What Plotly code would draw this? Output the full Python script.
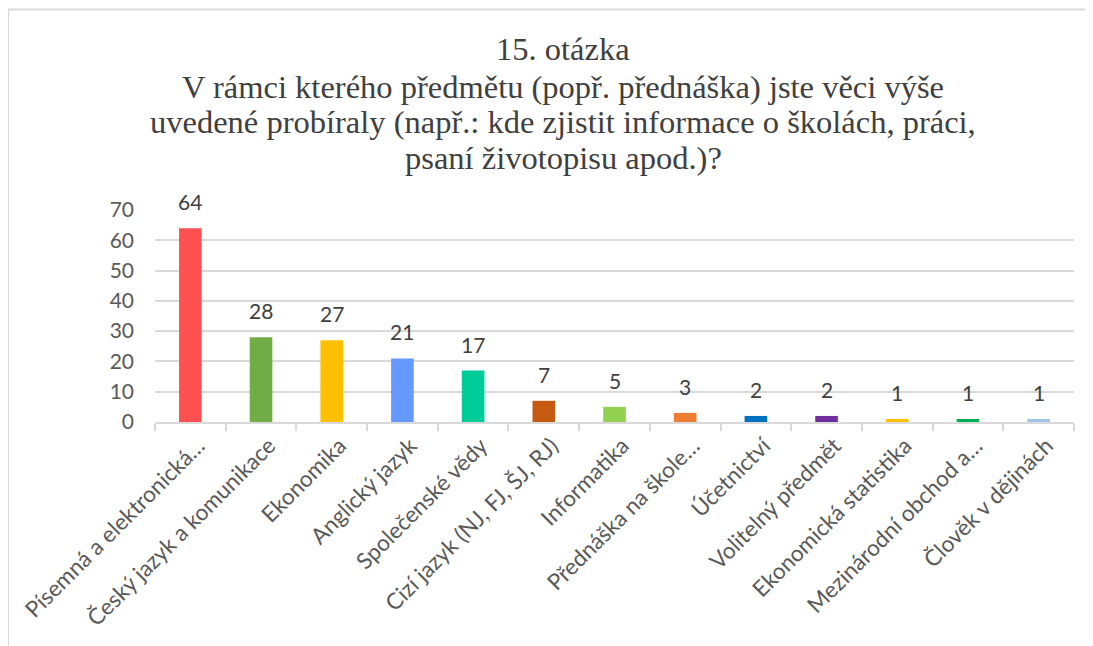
import plotly.graph_objects as go

categories = [
    "Písemná a elektronická…",
    "Český jazyk a komunikace",
    "Ekonomika",
    "Anglický jazyk",
    "Společenské vědy",
    "Cizí jazyk (NJ, FJ, ŠJ, RJ)",
    "Informatika",
    "Přednáška na škole…",
    "Účetnictví",
    "Volitelný předmět",
    "Ekonomická statistika",
    "Mezinárodní obchod a…",
    "Člověk v dějinách",
]
values = [64, 28, 27, 21, 17, 7, 5, 3, 2, 2, 1, 1, 1]
colors = ["#FF5050", "#70AD47", "#FFC000", "#6699FF", "#00CC99", "#C55A11",
          "#92D050", "#ED7D31", "#0070C0", "#7030A0", "#FFC000", "#00B050", "#9DC3E6"]
y_ticks = [0, 10, 20, 30, 40, 50, 60, 70]
title_lines = [
    "15. otázka",
    "V rámci kterého předmětu (popř. přednáška) jste věci výše",
    "uvedené probíraly (např.: kde zjistit informace o školách, práci,",
    "psaní životopisu apod.)?",
]

W, H = 1093, 646
L, R, T, B = 147, 27, 202, 232
pw = W - L - R
ph = H - T - B


def px2x(p):
    return (p - L) / pw


def py2y(p):
    return (H - B - p) / ph


fig = go.Figure(go.Bar(
    x=categories, y=values, marker_color=colors, width=0.32,
    marker_line_width=0,
))

for c, v in zip(categories, values):
    fig.add_annotation(x=c, y=v, text=str(v), showarrow=False, yanchor="bottom",
                       yshift=12, font=dict(family="Lato", size=21, color="#404040"))

# title lines
title_centers = [41, 79, 114, 150]
for line, cy in zip(title_lines, title_centers):
    fig.add_annotation(xref="paper", yref="paper", x=px2x(555), y=py2y(cy),
                       text=line, showarrow=False, xanchor="center", yanchor="middle",
                       font=dict(family="Liberation Serif", size=32.5, color="#404040"))

# chart frame (light gray border)
fig.add_shape(type="line", xref="paper", yref="paper", x0=px2x(0), x1=px2x(1100),
              y0=py2y(1.5), y1=py2y(1.5), line=dict(color="#D9D9D9", width=2))
fig.add_shape(type="line", xref="paper", yref="paper", x0=px2x(0), x1=px2x(0),
              y0=py2y(1.5), y1=py2y(660), line=dict(color="#D9D9D9", width=2))

fig.update_layout(
    width=W, height=H,
    margin=dict(l=L, r=R, t=T, b=B, autoexpand=False),
    paper_bgcolor="white", plot_bgcolor="white",
    showlegend=False,
    xaxis=dict(type="category", tickangle=-45, tickson="boundaries",
               ticks="outside", ticklen=7, tickcolor="#D9D9D9", tickwidth=1.5,
               showline=True, linecolor="#D9D9D9", linewidth=1.5,
               ticklabelshift=8,
               tickfont=dict(family="Lato", size=22.5, color="#595959"),
               showgrid=False),
    yaxis=dict(range=[0, 70], tickvals=y_ticks, showgrid=True, gridcolor="#D9D9D9",
               gridwidth=1.5, zeroline=False, showline=False,
               ticklabelstandoff=20,
               tickfont=dict(family="Lato", size=21, color="#595959")),
)

fig.write_html("out.html")
